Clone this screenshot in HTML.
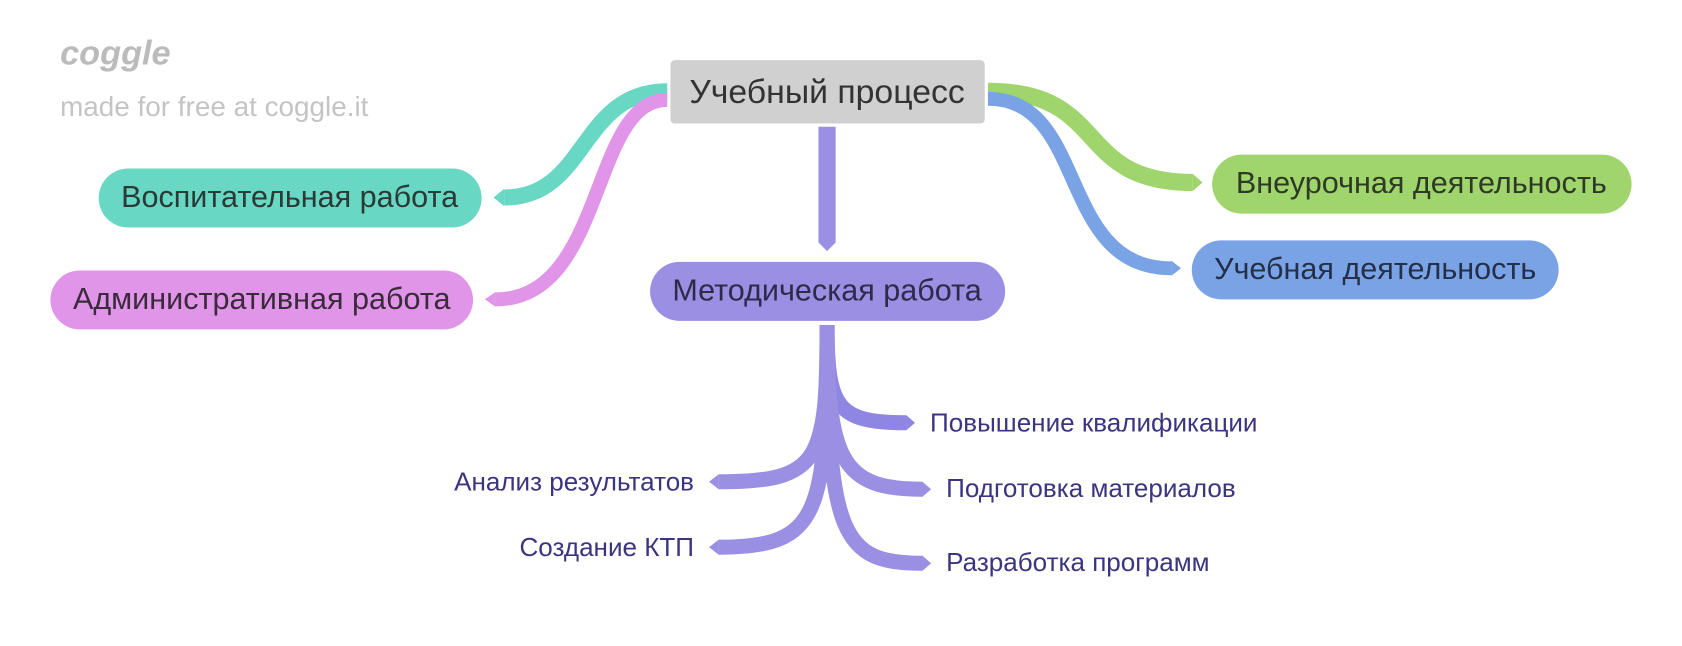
<!DOCTYPE html>
<html><head><meta charset="utf-8"><style>
html,body{margin:0;padding:0;background:#fff;width:1682px;height:646px;overflow:hidden}
svg{display:block}
text{font-family:"Liberation Sans",sans-serif}
</style></head><body>
<svg width="1682" height="646" viewBox="0 0 1568 602" xmlns="http://www.w3.org/2000/svg">
<text x="56" y="60" font-size="32" font-style="italic" font-weight="bold" fill="#bbb" font-family="Liberation Serif,serif">coggle</text>
<text x="56" y="108" font-size="26" fill="#c4c4c4">made for free at coggle.it</text>

<g fill="none" stroke-linecap="butt">
<path d="M622,85 C540,85 548,184 470,184" stroke="#68d8c4" stroke-width="15"/>
<path d="M622,93 C550,93 565,279 462,279" stroke="#e095e8" stroke-width="13"/>
<path d="M921,85 C1035,85 1000,170 1112,170" stroke="#9fd56c" stroke-width="16"/>
<path d="M921,92 C1015,92 985,250 1092,250" stroke="#7aa3e5" stroke-width="13"/>
<path d="M771,118 L771,226" stroke="#9a8fe3" stroke-width="16"/>
<path d="M771,303 C771,380 780,394 845,394" stroke="#8f86e3" stroke-width="14"/>
<path d="M771,303 C771,430 765,449 670,449" stroke="#9a8fe3" stroke-width="14"/>
<path d="M771,303 C771,480 765,510 670,510" stroke="#9a8fe3" stroke-width="14"/>
<path d="M771,303 C771,430 785,456 860,456" stroke="#9a8fe3" stroke-width="14"/>
<path d="M771,303 C771,500 785,525 860,525" stroke="#9a8fe3" stroke-width="14"/>
</g>
<polygon points="470,176 460,184 470,192" fill="#68d8c4"/>
<polygon points="462,272 452,279 462,286" fill="#e095e8"/>
<polygon points="1112,162 1121,170 1112,178" fill="#9fd56c"/>
<polygon points="1092,243 1101,250 1092,257" fill="#7aa3e5"/>
<polygon points="763,226 771,234 779,226" fill="#9a8fe3"/>
<polygon points="845,387 853,394 845,401" fill="#8f86e3"/>
<polygon points="670,442 661,449 670,456" fill="#9a8fe3"/>
<polygon points="670,503 661,510 670,517" fill="#9a8fe3"/>
<polygon points="860,449 868,456 860,463" fill="#9a8fe3"/>
<polygon points="860,518 868,525 860,532" fill="#9a8fe3"/>

<rect x="625" y="56" width="293" height="59" rx="4" fill="#d0d0d0"/>
<text x="771" y="96" font-size="31.5" fill="#333" text-anchor="middle">Учебный процесс</text>

<rect x="92" y="157" width="357" height="55" rx="27.5" fill="#68d8c4"/>
<text x="270" y="193" font-size="28.5" fill="#2a3a36" text-anchor="middle">Воспитательная работа</text>
<rect x="47" y="252" width="394" height="55" rx="27.5" fill="#e095e8"/>
<text x="244" y="288" font-size="28.5" fill="#3a2a3c" text-anchor="middle">Административная работа</text>
<rect x="1130" y="144" width="391" height="55" rx="27.5" fill="#9fd56c"/>
<text x="1325" y="180" font-size="28.5" fill="#2e3a24" text-anchor="middle">Внеурочная деятельность</text>
<rect x="1111" y="224" width="342" height="55" rx="27.5" fill="#7aa3e5"/>
<text x="1282" y="260" font-size="28.5" fill="#24304a" text-anchor="middle">Учебная деятельность</text>
<rect x="606" y="244" width="331" height="55" rx="27.5" fill="#9a8fe3"/>
<text x="771" y="280" font-size="28.5" fill="#2e2a4a" text-anchor="middle">Методическая работа</text>

<g font-size="24.3" fill="#3b3580">
<text x="867" y="402">Повышение квалификации</text>
<text x="647" y="457" text-anchor="end">Анализ результатов</text>
<text x="882" y="463">Подготовка материалов</text>
<text x="647" y="518" text-anchor="end">Создание КТП</text>
<text x="882" y="532">Разработка программ</text>
</g>
</svg>
</body></html>
